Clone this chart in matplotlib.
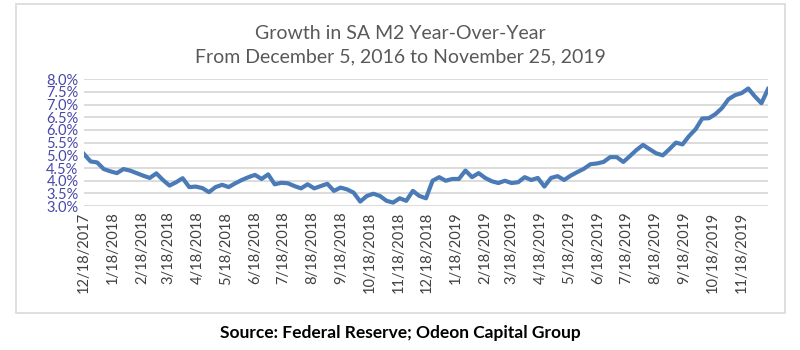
import numpy as np
import pandas as pd
import matplotlib
matplotlib.use("Agg")
import matplotlib.pyplot as plt
from matplotlib.patches import Rectangle

# weekly SA M2 y/y growth (%), starting 12/18/2017
start_date = "2017-12-18"
m2_growth = [
    5.05, 4.76, 4.72, 4.46, 4.37, 4.30, 4.46, 4.40, 4.30, 4.20,
    4.11, 4.29, 4.03, 3.81, 3.94, 4.10, 3.75, 3.77, 3.71, 3.55,
    3.75, 3.84, 3.75, 3.90, 4.03, 4.14, 4.23, 4.07, 4.25, 3.86,
    3.92, 3.90, 3.79, 3.70, 3.86, 3.70, 3.79, 3.88, 3.60, 3.73,
    3.66, 3.53, 3.18, 3.40, 3.49, 3.40, 3.21, 3.14, 3.31, 3.21,
    3.60, 3.40, 3.31, 4.00, 4.14, 4.00, 4.07, 4.07, 4.40, 4.14,
    4.30, 4.11, 3.98, 3.91, 4.00, 3.91, 3.94, 4.14, 4.03, 4.11,
    3.77, 4.11, 4.18, 4.03, 4.20, 4.34, 4.47, 4.65, 4.68, 4.74,
    4.93, 4.93, 4.74, 4.97, 5.21, 5.41, 5.24, 5.08, 5.00, 5.24,
    5.50, 5.43, 5.76, 6.03, 6.45, 6.46, 6.62, 6.86, 7.21, 7.37,
    7.45, 7.63, 7.32, 7.05, 7.61,
]
dates = pd.date_range(start_date, periods=len(m2_growth), freq="7D")

tick_dates = pd.to_datetime([
    "2017-12-18", "2018-01-18", "2018-02-18", "2018-03-18", "2018-04-18",
    "2018-05-18", "2018-06-18", "2018-07-18", "2018-08-18", "2018-09-18",
    "2018-10-18", "2018-11-18", "2018-12-18", "2019-01-18", "2019-02-18",
    "2019-03-18", "2019-04-18", "2019-05-18", "2019-06-18", "2019-07-18",
    "2019-08-18", "2019-09-18", "2019-10-18", "2019-11-18",
])
tick_labels = [f"{d.month}/{d.day}/{d.year}" for d in tick_dates]
y_ticks = [3.0, 3.5, 4.0, 4.5, 5.0, 5.5, 6.0, 6.5, 7.0, 7.5, 8.0]

plt.rcParams["font.family"] = ["Lato", "DejaVu Sans"]

fig = plt.figure(figsize=(8, 3.5), dpi=100)
fig.patches.append(Rectangle((0.02, 0.106), 0.961, 0.883, transform=fig.transFigure,
                             fill=False, edgecolor="#d9d9d9", lw=1.2))

ax = fig.add_axes([0.105, 0.411, 0.855, 0.363])
ax.plot(dates, m2_growth, color="#4a7bb7", lw=3.0, solid_joinstyle="round")

ax.set_ylim(3.0, 8.0)
ax.set_yticks(y_ticks)
ax.set_yticklabels([f"{v:.1f}%" for v in y_ticks], color="#4848a8", fontsize=10.5)
ax.set_xlim(dates[0], dates[-1])
ax.set_xticks(tick_dates)
ax.set_xticklabels(tick_labels, rotation=90, color="#404040", fontsize=10.5)
ax.tick_params(length=0, pad=4)
ax.grid(axis="y", color="#d9d9d9", lw=1.3)
ax.set_axisbelow(True)
for s in ax.spines.values():
    s.set_visible(False)

fig.text(0.5, 0.905, "Growth in SA M2 Year-Over-Year", ha="center", va="center",
         fontsize=14, color="#595959")
fig.text(0.5, 0.837, "From December 5, 2016 to November 25, 2019", ha="center", va="center",
         fontsize=14, color="#595959")
fig.text(0.5, 0.048, "Source: Federal Reserve; Odeon Capital Group", ha="center", va="center",
         fontsize=12.5, fontweight="bold", color="black")

fig.savefig("out.png", dpi=100)
